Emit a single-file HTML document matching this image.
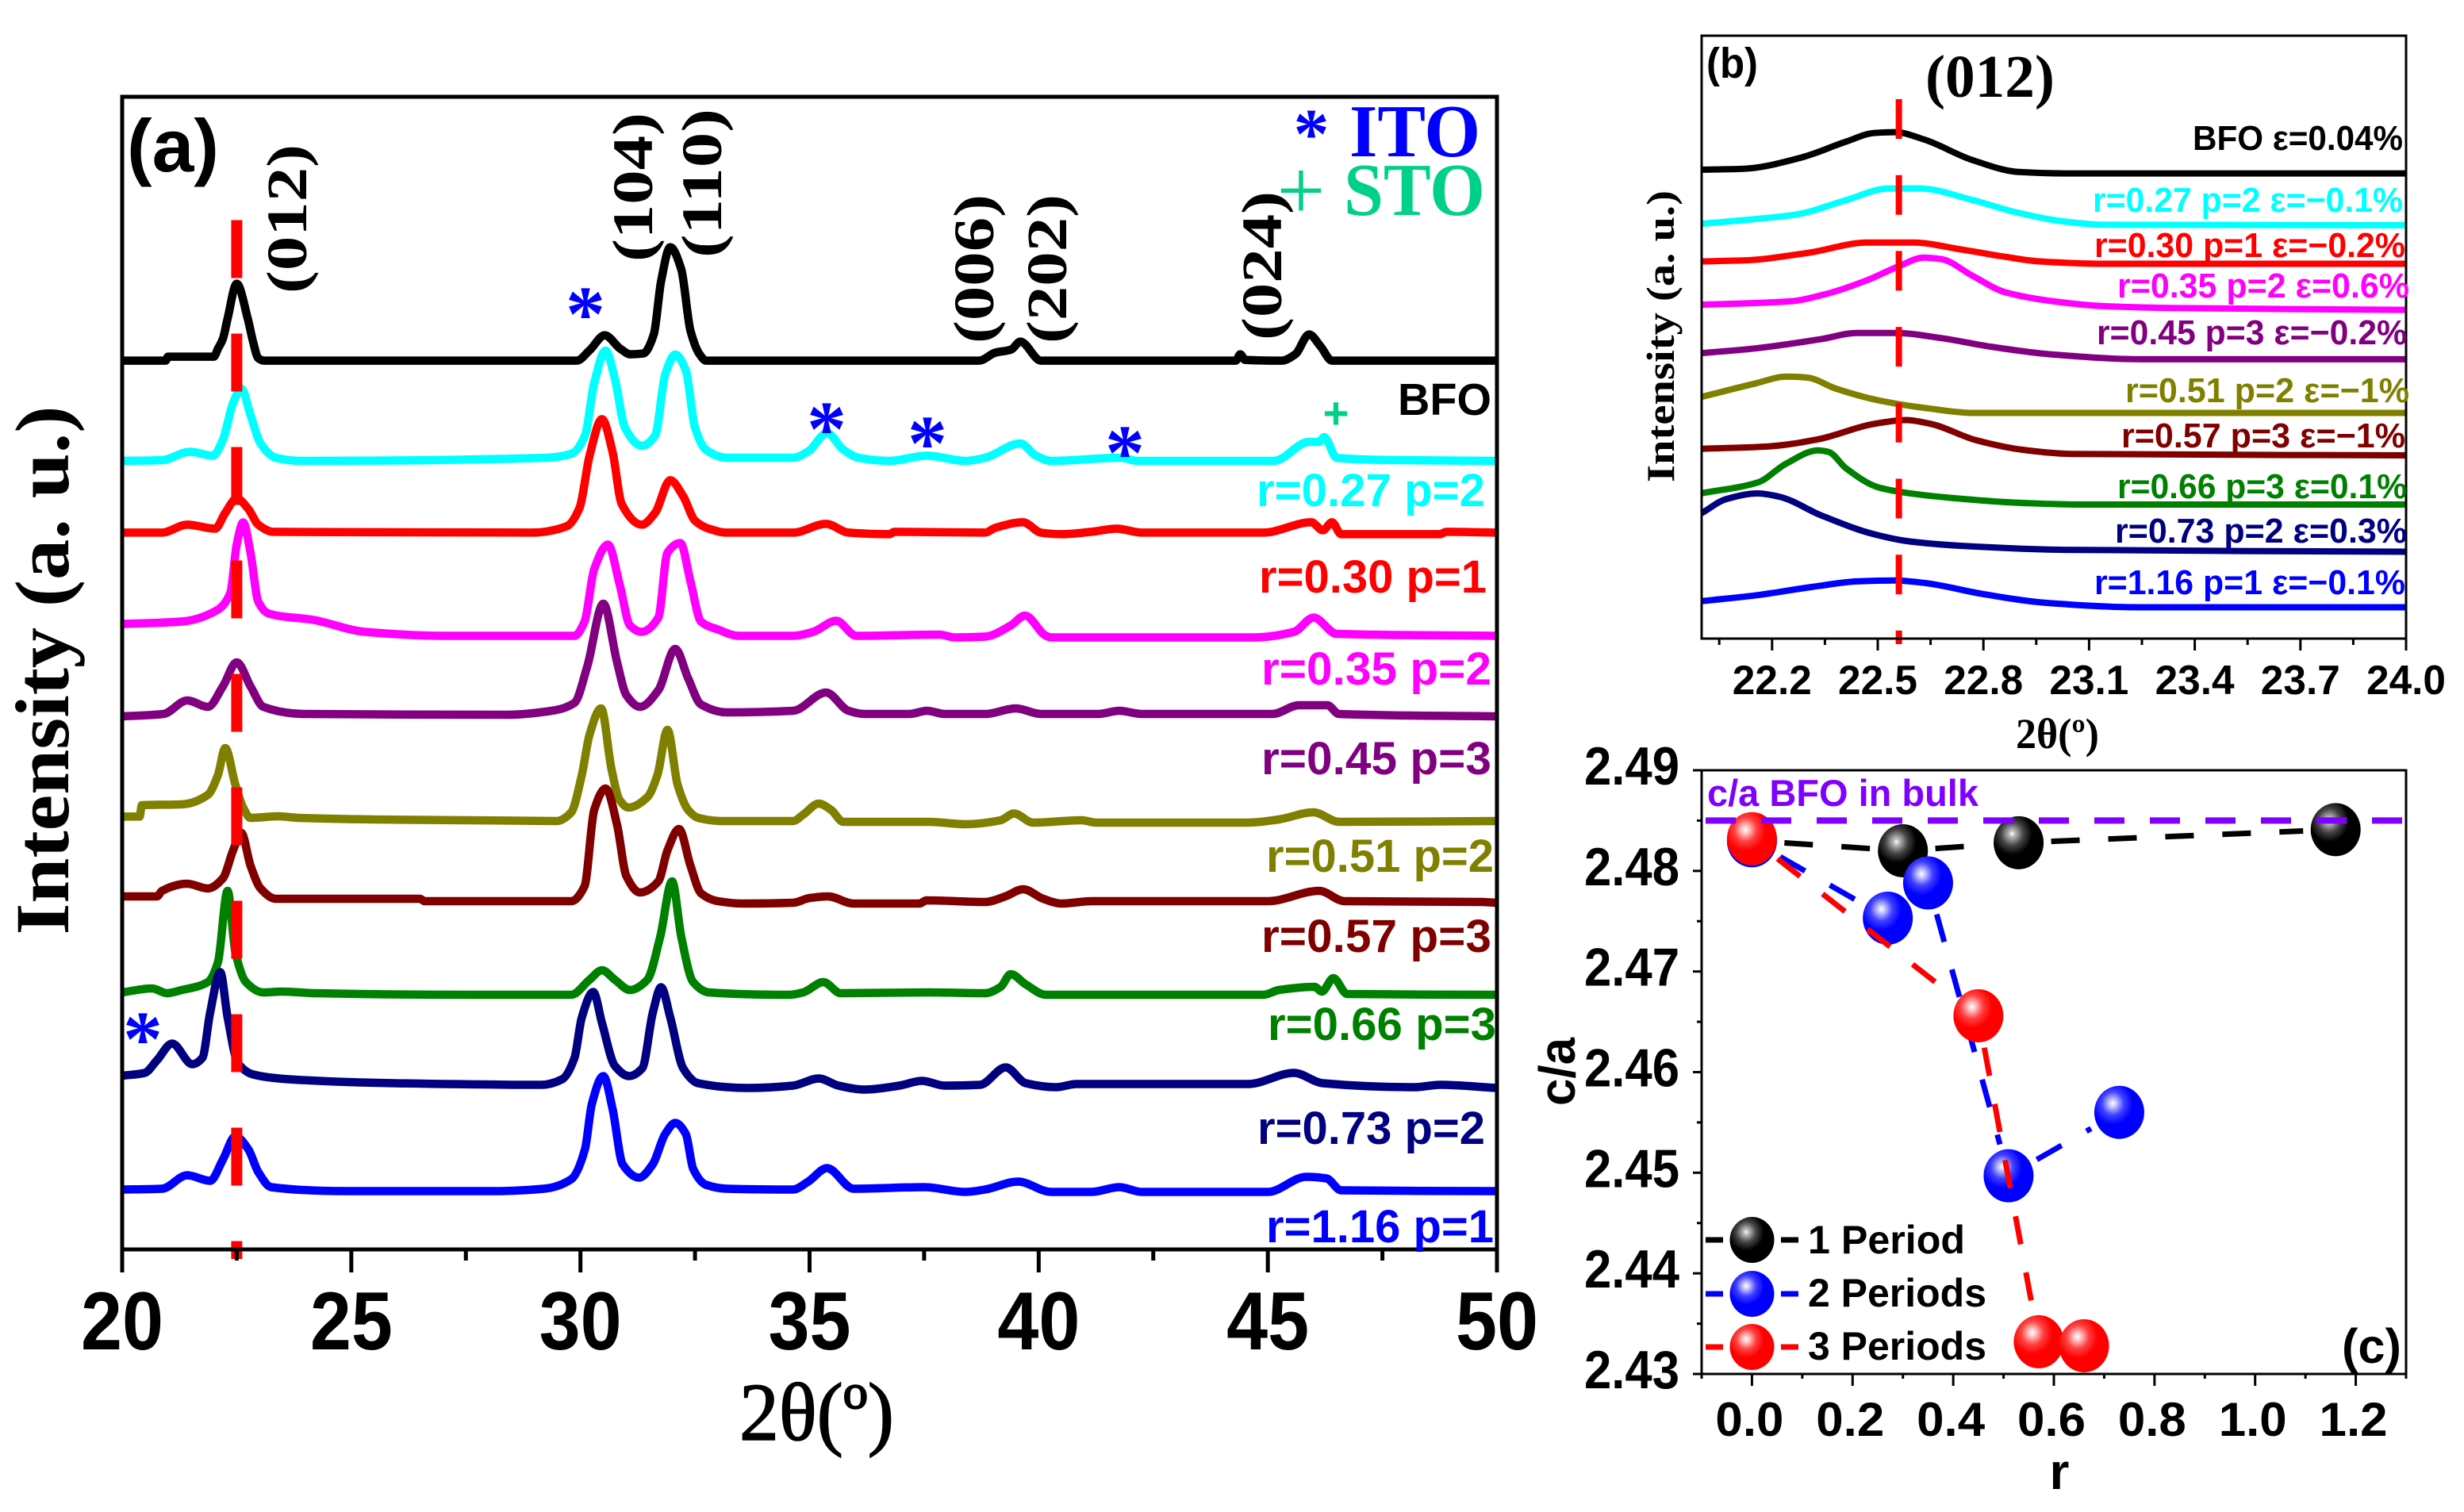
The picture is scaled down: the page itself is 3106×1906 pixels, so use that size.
<!DOCTYPE html>
<html lang="en">
<head>
<meta charset="utf-8">
<title>XRD patterns and c/a ratio</title>
<style>
html,body{margin:0;padding:0;background:#fff;width:3106px;height:1906px;overflow:hidden}
svg{display:block}
.sans{font-family:"Liberation Sans",sans-serif;font-weight:700}
.serif{font-family:"Liberation Serif",serif;font-weight:700}
.serifr{font-family:"Liberation Serif",serif;font-weight:400}
</style>
</head>
<body>
<svg id="figure" xmlns="http://www.w3.org/2000/svg" width="3106" height="1906" viewBox="0 0 3106 1906">
<defs>
<radialGradient id="ballBlack" cx="0.37" cy="0.33" r="0.5"><stop offset="0" stop-color="#fff"/><stop offset="0.12" stop-color="#bbb"/><stop offset="0.45" stop-color="#444"/><stop offset="0.8" stop-color="#000"/></radialGradient>
<radialGradient id="ballBlue" cx="0.37" cy="0.33" r="0.5"><stop offset="0" stop-color="#fff"/><stop offset="0.14" stop-color="#c8c8ff"/><stop offset="0.45" stop-color="#4040ff"/><stop offset="0.8" stop-color="#0000ff"/></radialGradient>
<radialGradient id="ballRed" cx="0.37" cy="0.33" r="0.5"><stop offset="0" stop-color="#fff"/><stop offset="0.14" stop-color="#ffc8c8"/><stop offset="0.45" stop-color="#ff4040"/><stop offset="0.8" stop-color="#ff0000"/></radialGradient>
</defs>

<g id="panelA">
  <g id="curvesA"></g>
  <g id="refA"></g>
  <rect x="154" y="122" width="1733" height="1453" fill="none" stroke="#000" stroke-width="5"/>
  <g id="ticksA"></g>

  <text class="serif" transform="translate(86,845) rotate(-90)" text-anchor="middle" font-size="96" textLength="667" lengthAdjust="spacingAndGlyphs">Intensity (a. u.)</text>
  <text class="serifr" x="932" y="1815" font-size="104" stroke="#000" stroke-width="1.5" textLength="195" lengthAdjust="spacingAndGlyphs">2θ(º)</text>
  <text class="sans" x="160" y="216" font-size="94" textLength="116" lengthAdjust="spacingAndGlyphs">(a)</text>

  <text class="serif" transform="translate(386,276) rotate(-90)" text-anchor="middle" font-size="72" textLength="188" lengthAdjust="spacingAndGlyphs">(012)</text>
  <text class="serif" transform="translate(822,236) rotate(-90)" text-anchor="middle" font-size="72" textLength="188" lengthAdjust="spacingAndGlyphs">(104)</text>
  <text class="serif" transform="translate(909,231) rotate(-90)" text-anchor="middle" font-size="72" textLength="188" lengthAdjust="spacingAndGlyphs">(110)</text>
  <text class="serif" transform="translate(1252,339) rotate(-90)" text-anchor="middle" font-size="72" textLength="188" lengthAdjust="spacingAndGlyphs">(006)</text>
  <text class="serif" transform="translate(1344,339) rotate(-90)" text-anchor="middle" font-size="72" textLength="188" lengthAdjust="spacingAndGlyphs">(202)</text>
  <text class="serif" transform="translate(1615,335) rotate(-90)" text-anchor="middle" font-size="72" textLength="188" lengthAdjust="spacingAndGlyphs">(024)</text>

  <text class="serif" x="1653" y="199" font-size="90" text-anchor="middle" fill="#0000ff">*</text>
  <text class="serif" x="1701" y="197" font-size="94" fill="#0000ff" textLength="165" lengthAdjust="spacingAndGlyphs">ITO</text>
  <text class="serifr" x="1640" y="276" font-size="108" text-anchor="middle" fill="#00d08a">+</text>
  <text class="serif" x="1694" y="271" font-size="94" fill="#00d08a" textLength="178" lengthAdjust="spacingAndGlyphs">STO</text>

  <text class="serif" x="738" y="429" font-size="100" text-anchor="middle" fill="#0000ff">*</text>
  <text class="serif" x="1042" y="574" font-size="100" text-anchor="middle" fill="#0000ff">*</text>
  <text class="serif" x="1169" y="592" font-size="100" text-anchor="middle" fill="#0000ff">*</text>
  <text class="serif" x="1418" y="604" font-size="100" text-anchor="middle" fill="#0000ff">*</text>
  <text class="serif" x="180" y="1343" font-size="100" text-anchor="middle" fill="#0000ff">*</text>
  <text class="sans" x="1684" y="540" font-size="56" text-anchor="middle" fill="#00d08a">+</text>

  <text class="sans" x="1762" y="523" font-size="57" fill="#000" textLength="118" lengthAdjust="spacingAndGlyphs">BFO</text>
  <text class="sans" x="1584" y="638" font-size="58" fill="#00ffff" textLength="288" lengthAdjust="spacingAndGlyphs">r=0.27 p=2</text>
  <text class="sans" x="1587" y="747" font-size="58" fill="#ff0000" textLength="287" lengthAdjust="spacingAndGlyphs">r=0.30 p=1</text>
  <text class="sans" x="1590" y="863" font-size="58" fill="#ff00ff" textLength="290" lengthAdjust="spacingAndGlyphs">r=0.35 p=2</text>
  <text class="sans" x="1590" y="976" font-size="58" fill="#800080" textLength="290" lengthAdjust="spacingAndGlyphs">r=0.45 p=3</text>
  <text class="sans" x="1596" y="1099" font-size="58" fill="#808000" textLength="287" lengthAdjust="spacingAndGlyphs">r=0.51 p=2</text>
  <text class="sans" x="1590" y="1200" font-size="58" fill="#800000" textLength="290" lengthAdjust="spacingAndGlyphs">r=0.57 p=3</text>
  <text class="sans" x="1598" y="1311" font-size="58" fill="#008000" textLength="288" lengthAdjust="spacingAndGlyphs">r=0.66 p=3</text>
  <text class="sans" x="1585" y="1442" font-size="58" fill="#000080" textLength="287" lengthAdjust="spacingAndGlyphs">r=0.73 p=2</text>
  <text class="sans" x="1596" y="1566" font-size="58" fill="#0000ff" textLength="287" lengthAdjust="spacingAndGlyphs">r=1.16 p=1</text>
</g>

<g id="panelB">
  <g id="curvesB"></g>
  <g id="refB"></g>
  <rect x="2145" y="45" width="888" height="760" fill="none" stroke="#000" stroke-width="3"/>
  <g id="ticksB"></g>
  <text class="serif" transform="translate(2110,424) rotate(-90)" text-anchor="middle" font-size="50" textLength="368" lengthAdjust="spacingAndGlyphs">Intensity (a. u.)</text>
  <text class="serif" x="2541" y="943" font-size="54" textLength="105" lengthAdjust="spacingAndGlyphs">2θ(º)</text>
  <text class="sans" x="2151" y="98" font-size="54" textLength="65" lengthAdjust="spacingAndGlyphs">(b)</text>
  <text class="serif" x="2427" y="122" font-size="76" textLength="163" lengthAdjust="spacingAndGlyphs">(012)</text>

  <text class="sans" x="2764" y="189" font-size="44" fill="#000" textLength="265" lengthAdjust="spacingAndGlyphs">BFO ε=0.04%</text>
  <text class="sans" x="2638" y="267" font-size="44" fill="#00ffff" textLength="391" lengthAdjust="spacingAndGlyphs">r=0.27 p=2 ε=−0.1%</text>
  <text class="sans" x="2640" y="324" font-size="44" fill="#ff0000" textLength="392" lengthAdjust="spacingAndGlyphs">r=0.30 p=1 ε=−0.2%</text>
  <text class="sans" x="2669" y="375" font-size="44" fill="#ff00ff" textLength="368" lengthAdjust="spacingAndGlyphs">r=0.35 p=2 ε=0.6%</text>
  <text class="sans" x="2643" y="434" font-size="44" fill="#800080" textLength="391" lengthAdjust="spacingAndGlyphs">r=0.45 p=3 ε=−0.2%</text>
  <text class="sans" x="2679" y="507" font-size="44" fill="#808000" textLength="358" lengthAdjust="spacingAndGlyphs">r=0.51 p=2 ε=−1%</text>
  <text class="sans" x="2674" y="564" font-size="44" fill="#800000" textLength="358" lengthAdjust="spacingAndGlyphs">r=0.57 p=3 ε=−1%</text>
  <text class="sans" x="2669" y="628" font-size="44" fill="#008000" textLength="365" lengthAdjust="spacingAndGlyphs">r=0.66 p=3 ε=0.1%</text>
  <text class="sans" x="2666" y="684" font-size="44" fill="#000080" textLength="368" lengthAdjust="spacingAndGlyphs">r=0.73 p=2 ε=0.3%</text>
  <text class="sans" x="2640" y="749" font-size="44" fill="#0000ff" textLength="392" lengthAdjust="spacingAndGlyphs">r=1.16 p=1 ε=−0.1%</text>
</g>

<g id="panelC">
  <rect x="2145" y="971" width="888" height="761" fill="none" stroke="#000" stroke-width="3"/>
  <g id="ticksC"></g>
  <g id="seriesC"></g>
  <text class="sans" transform="translate(1985,1351) rotate(-90)" text-anchor="middle" font-size="64" textLength="86" lengthAdjust="spacingAndGlyphs">c/a</text>
  <text class="sans" x="2596" y="1877" text-anchor="middle" font-size="64">r</text>
  <text class="sans" x="2952" y="1718" font-size="61" textLength="75" lengthAdjust="spacingAndGlyphs">(c)</text>
  <text class="sans" x="2152" y="1016" font-size="47" fill="#8000ff" textLength="342" lengthAdjust="spacingAndGlyphs">c/a BFO in bulk</text>

  <g>
    <line x1="2150" x2="2172" y1="1563" y2="1563" stroke="#000" stroke-width="7"/>
    <line x1="2245" x2="2267" y1="1563" y2="1563" stroke="#000" stroke-width="7"/>
    <ellipse cx="2208.5" cy="1563" rx="28" ry="29" fill="url(#ballBlack)"/>
    <text class="sans" x="2279" y="1580" font-size="50" textLength="198" lengthAdjust="spacingAndGlyphs">1 Period</text>
  </g>
  <g>
    <line x1="2150" x2="2172" y1="1631" y2="1631" stroke="#0000ff" stroke-width="7"/>
    <line x1="2245" x2="2267" y1="1631" y2="1631" stroke="#0000ff" stroke-width="7"/>
    <ellipse cx="2208.5" cy="1631" rx="28" ry="29" fill="url(#ballBlue)"/>
    <text class="sans" x="2279" y="1647" font-size="50" textLength="225" lengthAdjust="spacingAndGlyphs">2 Periods</text>
  </g>
  <g>
    <line x1="2150" x2="2172" y1="1698" y2="1698" stroke="#ff0000" stroke-width="7"/>
    <line x1="2245" x2="2267" y1="1698" y2="1698" stroke="#ff0000" stroke-width="7"/>
    <ellipse cx="2208.5" cy="1698" rx="28" ry="29" fill="url(#ballRed)"/>
    <text class="sans" x="2279" y="1714" font-size="50" textLength="225" lengthAdjust="spacingAndGlyphs">3 Periods</text>
  </g>
</g>
</svg>

<script>
/* ---------- Panel (a): full XRD patterns. x = 2-theta (deg), y = intensity (a.u.) above each trace's baseline ---------- */
const seriesNames = ['bfo','r027','r030','r035','r045','r051','r057','r066','r073','r116'];
const seriesColors = ['#000000','#00ffff','#ff0000','#ff00ff','#800080','#808000','#800000','#008000','#000080','#0000ff'];
const stackOffsetsA = [1120.4,994,903.6,773.5,672,538,439,321,207.5,75.5];

const thetaBfo = [20,20.95,21,22,22.09,22.2,22.3,22.5,22.74,22.86,22.97,23.1,29.92,30.2,30.53,30.87,31.09,31.37,31.6,31.76,31.96,32.2,32.4,32.6,32.74,38.7,39.05,39.4,39.6,40.05,44.3,44.4,44.5,45.3,45.6,45.9,46.15,46.4,50];
const intensityBfo = [0,0,5,5,15,28,53,97,53,23,3,0,0,13,32,15,8,9,33,100,143,115,38,8,0,0,10,14,24,0,0,8,1,0,8,33,18,0,0];
const thetaR027 = [20,20.87,21.48,21.98,22.2,22.42,22.6,22.8,23.02,23.35,23.9,29.26,29.8,30.1,30.3,30.55,30.75,30.97,31.34,31.63,31.85,32.07,32.3,32.5,32.74,33.2,34.64,34.97,35.38,35.74,36.07,36.74,37.56,38.4,38.83,39.6,39.94,40.27,41.8,42.15,45.13,45.9,46.12,46.23,46.5,47.33,50];
const intensityR027 = [0,1,11.5,6.6,27,73,91,58,22,4,0,4,9,32,98,139,104,42,19,32,109,134,114,42,14,4,4,12,35,14,4,0,6.6,0,4,22,6.6,0,4,0,0,24,24,30,4,1.5,0];
const thetaR030 = [20,20.87,21.42,22.03,22.25,22.5,22.75,22.97,23.3,28.93,29.7,29.98,30.2,30.47,30.7,30.9,31.34,31.63,31.96,32.24,32.5,32.8,33.2,34.64,35.36,35.85,36.74,36.85,38.83,39.05,39.66,40.05,40.5,41.15,41.7,42.25,44.9,45.95,46.2,46.4,46.6,48.75,48.9,50];
const intensityR030 = [0,0,10,5,25,43,30,10,1,0,8,31,97,143,102,36,10,25,66,46,15,5,0,0,11,0,-2,1,0,6,13,0,-2,1,5,0,0,13,3,13,-2,-2,1,0];
const thetaR035 = [20,21.3,22.09,22.36,22.5,22.64,22.8,22.97,23.2,24.18,25.3,27.05,29.87,30.09,30.3,30.6,30.86,31.08,31.33,31.7,31.9,32.18,32.4,32.63,33,33.45,34.64,35.08,35.58,36.02,37.84,38.17,38.83,39.39,39.7,40.16,40.27,44.68,45.57,46,46.5,50];
const intensityR035 = [15,18,33,54,115,143,105,43,28,20,5,0,0,18,84,115,64,13,5,23,105,117,69,18,8,0,0,5,19,0,1.5,-2,-1,13,25.5,0,-2,-2,5,23,2.5,0];
const thetaR045 = [20,20.9,21.42,21.87,22.2,22.5,22.8,23.08,23.96,28.4,29.37,29.87,30.15,30.5,30.8,31,31.3,31.7,32.07,32.35,32.63,33.2,34.64,35.36,35.85,36.2,37.18,37.56,37.95,38.83,39.5,40.05,41.3,41.76,42.25,45.1,45.68,46.3,46.55,50];
const intensityR045 = [0,3,20,12,38,68,38,12,3,2,7,17,63,142,68,27,12,33,85,48,15,5,7,30,7,3,3,7,3,3,10,3,3,7,3,3,14,14,3,0];
const thetaR051 = [20,20.38,20.43,21.3,21.87,22.09,22.25,22.47,22.64,22.8,23.4,23.85,25.5,29.48,29.8,30.03,30.2,30.45,30.68,30.85,31.05,31.46,31.68,31.9,32.12,32.35,32.57,33.1,34.64,34.86,35.2,35.47,35.74,37.6,38.4,39.17,39.46,39.88,40.93,41.26,44.57,45.24,45.99,46.56,50];
const intensityR051 = [7.6,7.6,22,23,35,60,94,48,19,6,8,6,4,2,13,60,111,144,67,29,19,32,60,117,48,16,6,2,2,10,24,16,1,1,-2,3,11.5,0,3,0,0,4,13,1,2];
const thetaR057 = [20,20.76,20.87,21.42,21.87,22.2,22.42,22.6,22.8,23.02,23.35,26.5,26.6,29.8,30.09,30.3,30.55,30.8,31,31.3,31.7,31.9,32.15,32.4,32.63,33,33.55,34.64,35,35.4,35.96,37.4,37.55,38.83,39.27,39.66,40.1,40.5,41.15,45,46.12,46.67,49.65,50];
const intensityR057 = [6,6,13,22,16,29,64,86,45,16,3,3,0,0,19,115,142,96,32,11,25,64,91,45,10,0,-3,-2,4,6,-3,-3,1,-1,6,15,3,-3,0,0,13,0,-1,-2];
const thetaR066 = [20,20.65,20.98,21.3,21.87,22.09,22.3,22.47,22.7,23.08,23.5,24.2,27.6,29.8,30.2,30.47,30.75,31.08,31.46,31.74,32,32.2,32.46,32.8,34.56,34.86,35.3,35.68,37.6,38.83,39.17,39.39,39.72,40.16,44.9,45.24,46.02,46.18,46.43,46.73,50];
const intensityR066 = [3,8,2,6,16,41,131,54,16,3,4,2,0,0,19,31,19,6,19,73,143,73,16,3,0,3,16,2,3,2,10,26,13,0,0,6,10,4,21,1,0];
const thetaR073 = [20,20.49,20.76,21.09,21.53,21.75,21.92,22.14,22.3,22.53,22.86,23.63,25.95,29.15,29.6,29.87,30.03,30.28,30.47,30.75,31.06,31.35,31.58,31.76,31.96,32.24,32.57,33.67,34.64,35.2,35.63,36.2,36.96,37.45,37.95,38.72,39.28,39.72,40.38,40.82,44.57,45.57,46.2,48.2,48.76,50];
const intensityR073 = [11.5,15,31,52,26,34,91,142,85,27,13,7,2,0,7,34,85,117,78,24,11,21,91,123,85,21,2,-4,-1,8,-1,-6,-1,5,-1,0,22,2,-3,1,1,15,2,-3,0,-4];
const thetaR116 = [20,20.87,21.42,21.92,22.2,22.47,22.75,22.97,23.25,24.9,28.1,29.2,29.8,30.1,30.25,30.5,30.7,30.92,31.28,31.58,31.85,32.07,32.3,32.46,32.74,33.2,34.64,34.97,35.38,35.96,37.5,38.4,38.83,39.55,40.27,41.15,41.76,42.25,45,45.84,46.28,46.6,50];
const intensityR116 = [0,1,18,11,38,67,51,22,3,-2,-2,1,13,51,108,143,102,32,15,32,70,84,70,26,6,1,0,10,27,1,3,-3,0,10,-3,-3,3,-3,-3,16,14,-1,-2];

const thetaSetA = [thetaBfo,thetaR027,thetaR030,thetaR035,thetaR045,thetaR051,thetaR057,thetaR066,thetaR073,thetaR116];
const intensitySetA = [intensityBfo,intensityR027,intensityR030,intensityR035,intensityR045,intensityR051,intensityR057,intensityR066,intensityR073,intensityR116];
const xTicksA = ['20','25','30','35','40','45','50'];
const xMinorTicksA = [22.5,27.5,32.5,37.5,42.5,47.5];
const referenceThetaA = 22.5;

/* ---------- Panel (b): zoom on (012) ---------- */
const stackOffsetsB = [586.4,521.1,472.5,414.4,352.1,284.5,231,169,109.5,39.5];
const zoomThetaBfo = [22,22.12,22.28,22.41,22.49,22.55,22.63,22.77,22.9,23.03,24];
const zoomIntensityBfo = [4.7,5.9,19.6,40,51,52,43,16.6,1.8,0,0];
const zoomThetaR027 = [22,22.15,22.27,22.41,22.53,22.62,22.77,22.89,23.03,23.14,24];
const zoomIntensityR027 = [1.8,7.7,13.6,31.6,46.3,46.3,31.6,16.6,4.7,0.6,0];
const zoomThetaR030 = [22,22.12,22.3,22.47,22.6,22.74,22.86,22.96,23.14,24];
const zoomIntensityR030 = [3,4.2,13.6,26.7,26.7,17.8,8.9,3,0,0];
const zoomThetaR035 = [22,22.25,22.35,22.47,22.56,22.63,22.68,22.77,22.86,23,23.14,23.33,24];
const zoomIntensityR035 = [6.5,10.7,19.6,37.4,55,65.8,64,42.7,22.5,10.7,4.7,2.4,0];
const zoomThetaR045 = [22,22.15,22.34,22.44,22.55,22.68,22.81,23,23.25,24];
const zoomIntensityR045 = [7.7,13.6,25.5,33.2,33.2,26.7,16.6,5.9,0,0];
const zoomThetaR051 = [22,22.15,22.24,22.3,22.38,22.5,22.65,22.77,24];
const zoomIntensityR051 = [20.2,36.8,45.7,44.5,30.8,16,5.3,0,0];
const zoomThetaR057 = [22,22.19,22.33,22.49,22.58,22.65,22.78,22.91,23.05,24];
const zoomIntensityR057 = [8.3,11.3,20.2,39.7,44.5,39.7,19,7.1,1.8,0];
const zoomThetaR066 = [22,22.16,22.24,22.33,22.36,22.41,22.5,22.59,22.74,22.89,23.08,24];
const zoomIntensityR066 = [14.2,27.9,51.6,68.2,66.4,45.7,21.9,14.2,7.1,2.4,0,0];
const zoomThetaR073 = [22,22.07,22.16,22.22,22.34,22.49,22.59,22.75,23.03,24];
const zoomIntensityR073 = [48.6,66.4,73.5,69.4,45.7,22,13,7.1,2.4,0];
const zoomThetaR116 = [22,22.15,22.33,22.44,22.55,22.63,22.8,22.97,23.24,24];
const zoomIntensityR116 = [7.7,14.8,26.7,32.6,33.8,30.8,16.6,5.9,0,0];

const thetaSetB = [zoomThetaBfo,zoomThetaR027,zoomThetaR030,zoomThetaR035,zoomThetaR045,zoomThetaR051,zoomThetaR057,zoomThetaR066,zoomThetaR073,zoomThetaR116];
const intensitySetB = [zoomIntensityBfo,zoomIntensityR027,zoomIntensityR030,zoomIntensityR035,zoomIntensityR045,zoomIntensityR051,zoomIntensityR057,zoomIntensityR066,zoomIntensityR073,zoomIntensityR116];
const xTicksB = ['22.2','22.5','22.8','23.1','23.4','23.7','24.0'];
const xMinorTicksB = [22.05,22.35,22.65,22.95,23.25,23.55,23.85];
const referenceThetaB = 22.56;

/* ---------- Panel (c): c/a versus r ---------- */
const rOnePeriod = [0,0.30,0.53,1.16];
const caOnePeriod = [2.483,2.482,2.4828,2.4841];
const rTwoPeriods = [0,0.27,0.35,0.51,0.73];
const caTwoPeriods = [2.483,2.4753,2.4788,2.4497,2.456];
const rThreePeriods = [0,0.45,0.57,0.66];
const caThreePeriods = [2.4832,2.4656,2.4332,2.4328];
const bulkCa = 2.485;
const xTicksC = ['0.0','0.2','0.4','0.6','0.8','1.0','1.2'];
const xMinorTicksC = [-0.1,0.1,0.3,0.5,0.7,0.9,1.1,1.3];
const yTicksC = ['2.43','2.44','2.45','2.46','2.47','2.48','2.49'];
const yMinorTicksC = [2.435,2.445,2.455,2.465,2.475,2.485];

/* ---------- Axis functions ---------- */
function xA(t){return 154+(t-20)*(1733/30);}
function yA(v){return 1575-v;}
function xB(t){return 2145+(t-22)*(888/2);}
function yB(v){return 805-v;}
function xC(r){return 2145+(r+0.1)*(888/1.4);}
function yC(c){return 1732-(c-2.43)*(761/0.06);}

const NS='http://www.w3.org/2000/svg';
function make(tag,attrs,parent,txt){
  const el=document.createElementNS(NS,tag);
  for(const k in attrs){el.setAttribute(k,attrs[k]);}
  if(txt!==undefined){el.textContent=txt;}
  parent.appendChild(el);
  return el;
}

/* monotone cubic through the read-off points */
function smoothPath(px,py){
  const n=px.length,d=[],m=new Array(n);
  for(let i=0;i<n-1;i++){d[i]=(py[i+1]-py[i])/(px[i+1]-px[i]);}
  m[0]=d[0];m[n-1]=d[n-2];
  for(let i=1;i<n-1;i++){
    if(d[i-1]*d[i]<=0){m[i]=0;}
    else{
      const h0=px[i]-px[i-1],h1=px[i+1]-px[i];
      m[i]=3*(h0+h1)/((2*h1+h0)/d[i-1]+(h1+2*h0)/d[i]);
    }
  }
  let s='M'+px[0].toFixed(1)+' '+py[0].toFixed(1);
  for(let i=0;i<n-1;i++){
    const h=(px[i+1]-px[i])/3;
    s+='C'+(px[i]+h).toFixed(1)+' '+(py[i]+m[i]*h).toFixed(1)+' '+(px[i+1]-h).toFixed(1)+' '+(py[i+1]-m[i+1]*h).toFixed(1)+' '+px[i+1].toFixed(1)+' '+py[i+1].toFixed(1);
  }
  return s;
}

function drawCurves(group,thetas,intens,offsets,xf,yf,width,prefix){
  seriesNames.forEach(function(name,i){
    const px=thetas[i].map(xf);
    const py=intens[i].map(function(v){return yf(v+offsets[i]);});
    const p=make('path',{d:smoothPath(px,py),fill:'none',stroke:seriesColors[i],'stroke-width':width,'stroke-linejoin':'round','stroke-linecap':'butt'},group);
    
    
  });
}

drawCurves(document.getElementById('curvesA'),thetaSetA,intensitySetA,stackOffsetsA,xA,yA,10.5,'xrd');
drawCurves(document.getElementById('curvesB'),thetaSetB,intensitySetB,stackOffsetsB,xB,yB,8,'zoom');

/* reference dashed lines */
const refLineA=make('line',{x1:xA(referenceThetaA),x2:xA(referenceThetaA),y1:277.5,y2:1587,stroke:'#ff0000','stroke-width':14,'stroke-dasharray':'73 70'},document.getElementById('refA'));


const refLineB=make('line',{x1:xB(referenceThetaB),x2:xB(referenceThetaB),y1:125,y2:812,stroke:'#ff0000','stroke-width':8,'stroke-dasharray':'50 45.7'},document.getElementById('refB'));



/* axes a */
const ticksA=document.getElementById('ticksA');
xTicksA.forEach(function(lab){
  const x=xA(parseFloat(lab));
  const t=make('line',{x1:x,x2:x,y1:1575,y2:1604,stroke:'#000','stroke-width':5},ticksA);
  
  
  const l=make('text',{x:x,y:1701,'text-anchor':'middle','font-size':104,'class':'sans',textLength:104,lengthAdjust:'spacingAndGlyphs'},ticksA,lab);
  
  
});
xMinorTicksA.forEach(function(v){
  const x=xA(v);
  const t=make('line',{x1:x,x2:x,y1:1575,y2:1589,stroke:'#000','stroke-width':5},ticksA);
  
  
});

/* axes b */
const ticksB=document.getElementById('ticksB');
xTicksB.forEach(function(lab){
  const x=xB(parseFloat(lab));
  const t=make('line',{x1:x,x2:x,y1:805,y2:820,stroke:'#000','stroke-width':3},ticksB);
  
  
  const l=make('text',{x:x,y:875,'text-anchor':'middle','font-size':52,'class':'sans',textLength:100,lengthAdjust:'spacingAndGlyphs'},ticksB,lab);
  
  
});
xMinorTicksB.forEach(function(v){
  const x=xB(v);
  const t=make('line',{x1:x,x2:x,y1:805,y2:813,stroke:'#000','stroke-width':3},ticksB);
  
  
});

/* axes c */
const ticksC=document.getElementById('ticksC');
xTicksC.forEach(function(lab){
  const x=xC(parseFloat(lab));
  const t=make('line',{x1:x,x2:x,y1:1732,y2:1747,stroke:'#000','stroke-width':3},ticksC);
  
  
  const l=make('text',{x:x-3,y:1810,'text-anchor':'middle','font-size':60,'class':'sans',textLength:86,lengthAdjust:'spacingAndGlyphs'},ticksC,lab);
  
  
});
xMinorTicksC.forEach(function(v){
  const x=xC(v);
  const t=make('line',{x1:x,x2:x,y1:1732,y2:1738,stroke:'#000','stroke-width':3},ticksC);
  
  
});
yTicksC.forEach(function(lab){
  const y=yC(parseFloat(lab));
  const t=make('line',{x1:2134,x2:2145,y1:y,y2:y,stroke:'#000','stroke-width':3},ticksC);
  
  
  const l=make('text',{x:2117,y:y+18,'text-anchor':'end','font-size':68,'class':'sans',textLength:120,lengthAdjust:'spacingAndGlyphs'},ticksC,lab);
  
  
});
yMinorTicksC.forEach(function(v){
  const y=yC(v);
  const t=make('line',{x1:2139,x2:2145,y1:y,y2:y,stroke:'#000','stroke-width':3},ticksC);
  
  
});

/* series c */
const seriesC=document.getElementById('seriesC');
function drawRatioSeries(name,rs,cas,color,fill){
  const g=make('g',{},seriesC);
  
  
  const gap=41;
  rs.forEach(function(r,i){
    const m=make('ellipse',{cx:xC(r),cy:yC(cas[i]),rx:31.5,ry:33.5,fill:fill},g);
    
    
  });
  for(let i=0;i<rs.length-1;i++){
    const x0=xC(rs[i]),y0=yC(cas[i]),x1=xC(rs[i+1]),y1=yC(cas[i+1]);
    const len=Math.hypot(x1-x0,y1-y0);
    if(len<=2*gap){continue;}
    const ux=(x1-x0)/len,uy=(y1-y0)/len;
    const seg=make('line',{x1:x0+ux*gap,y1:y0+uy*gap,x2:x1-ux*gap,y2:y1-uy*gap,stroke:color,'stroke-width':7,'stroke-dasharray':'36 36'},g);
    
    
  }
}
drawRatioSeries('one-period',rOnePeriod,caOnePeriod,'#000000','url(#ballBlack)');
drawRatioSeries('two-periods',rTwoPeriods,caTwoPeriods,'#0000ff','url(#ballBlue)');
drawRatioSeries('three-periods',rThreePeriods,caThreePeriods,'#ff0000','url(#ballRed)');

const bulkLine=make('line',{x1:2150,x2:3031,y1:yC(bulkCa),y2:yC(bulkCa),stroke:'#8000ff','stroke-width':8,'stroke-dasharray':'38 32'},seriesC);


</script>
</body>
</html>
